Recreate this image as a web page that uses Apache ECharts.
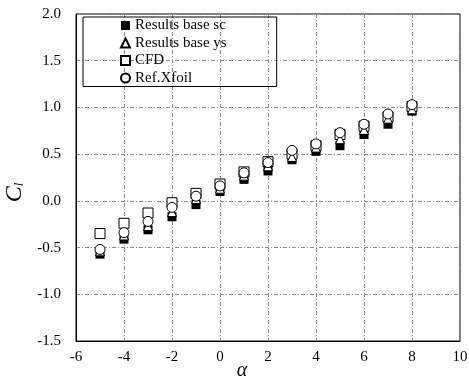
<!DOCTYPE html>
<html>
<head>
<meta charset="utf-8">
<script src="https://cdn.jsdelivr.net/npm/echarts@6/dist/echarts.min.js"></script>
<style>
html, body { margin: 0; padding: 0; background: #fff; }
#chart { width: 469px; height: 383px; }
</style>
</head>
<body>
<div id="chart"></div>
<script>
var alpha = [-5, -4, -3, -2, -1, 0, 1, 2, 3, 4, 5, 6, 7, 8];
var baseSc = [-0.57, -0.41, -0.31, -0.17, -0.04, 0.10, 0.23, 0.32, 0.44, 0.53, 0.59, 0.71, 0.82, 0.96];
var baseYs = [-0.54, -0.37, -0.27, -0.12, 0.02, 0.13, 0.27, 0.37, 0.47, 0.57, 0.66, 0.76, 0.88, 0.98];
var cfd = [-0.35, -0.24, -0.13, -0.02, 0.08, 0.18, 0.31, 0.42, 0.50, 0.59, 0.71, 0.80, 0.90, 1.01];
var xfoil = [-0.52, -0.34, -0.22, -0.07, 0.05, 0.16, 0.30, 0.41, 0.54, 0.61, 0.73, 0.82, 0.93, 1.03];
var seriesNames = ['Results base sc', 'Results base ys', 'CFD', 'Ref.Xfoil'];

function pairs(ys) {
	var out = [];
	for (var i = 0; i < alpha.length; i++)
		out.push([alpha[i], ys[i]]);
	return out;
}

var chart = echarts.init(document.getElementById('chart'));
var font = '"Liberation Serif", "Times New Roman", serif';
var gridLine = { show: true, lineStyle: { color: '#8a8a8a', width: 1, type: [4, 2, 1, 2] } };
// open markers: white fill, black outline
var openStyle = { color: '#fff', borderColor: '#000', borderWidth: 1, opacity: 1 };

var option = {
	animation: false,
	textStyle: { fontFamily: font },
	grid: { left: 76, right: 9, top: 14, bottom: 42, outerBoundsMode: 'none', containLabel: false,
		show: true, borderColor: '#000', borderWidth: 1 },
	legend: {
		orient: 'vertical',
		left: 83,
		top: 17,
		padding: [1, 50, 1, 37],
		itemWidth: 9,
		itemHeight: 9,
		itemGap: 2.5,
		borderColor: '#000',
		borderWidth: 1,
		textStyle: { fontFamily: font, fontSize: 15, color: '#000', lineHeight: 15 },
		data: [seriesNames[0], seriesNames[1], seriesNames[2], seriesNames[3]]
	},
	xAxis: {
		type: 'value',
		min: -6, max: 10, interval: 2,
		name: 'α',
		nameLocation: 'middle',
		nameGap: 20,
		nameMoveOverlap: false,
		nameTextStyle: { fontFamily: font, fontStyle: 'italic', fontSize: 20, color: '#000', padding: [0, 52, 0, 0] },
		axisLine: { onZero: false, lineStyle: { color: '#000' } },
		axisTick: { show: false },
		axisLabel: { color: '#000', fontSize: 15, margin: 9, fontFamily: font },
		splitLine: gridLine
	},
	yAxis: {
		type: 'value',
		min: -1.5, max: 2.0, interval: 0.5,
		name: '{c|C}{s|l}',
		nameLocation: 'middle',
		nameRotate: 90,
		nameGap: 47,
		nameTextStyle: {
			padding: [0, 30, 0, 0],
			rich: {
				c: { fontFamily: font, fontStyle: 'italic', fontSize: 24, color: '#000' },
				s: { fontFamily: font, fontStyle: 'italic', fontSize: 13, color: '#000', verticalAlign: 'bottom', padding: [10, 0, 0, 0] }
			}
		},
		axisLine: { show: true, onZero: false, lineStyle: { color: '#000' } },
		axisTick: { show: false },
		axisLabel: { color: '#000', fontSize: 15, margin: 15, fontFamily: font, formatter: function (v) { return v.toFixed(1); } },
		splitLine: gridLine
	},
	series: [
		{
			name: seriesNames[0], type: 'scatter', symbol: 'rect', symbolSize: 9,
			itemStyle: { color: '#000', opacity: 1 },
			data: pairs(baseSc)
		},
		{
			name: seriesNames[2], type: 'scatter', symbol: 'rect', symbolSize: 10,
			itemStyle: openStyle,
			data: pairs(cfd)
		},
		{
			name: seriesNames[1], type: 'scatter', symbol: 'triangle', symbolSize: 9,
			itemStyle: openStyle,
			data: pairs(baseYs)
		},
		{
			name: seriesNames[3], type: 'scatter', symbol: 'circle', symbolSize: 10,
			itemStyle: openStyle,
			data: pairs(xfoil)
		}
	]
};
chart.setOption(option);
</script>
</body>
</html>
